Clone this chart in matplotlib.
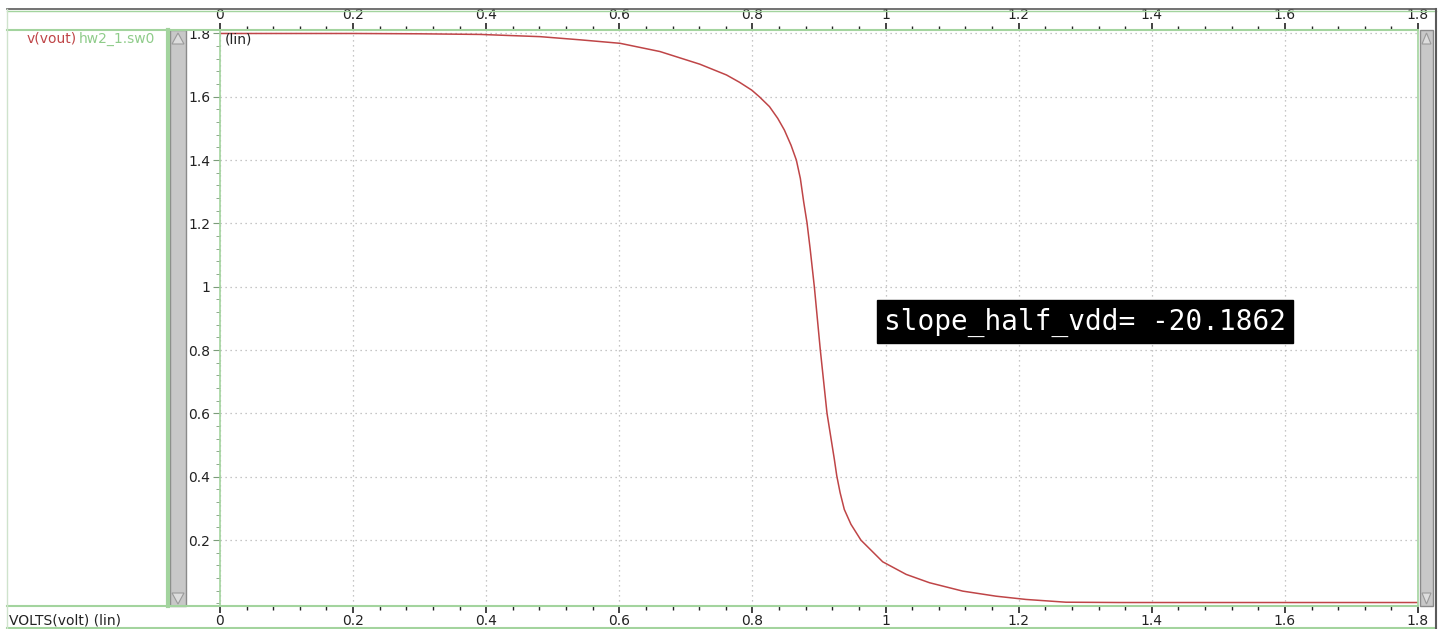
import matplotlib
matplotlib.use("Agg")
import matplotlib.pyplot as plt
from matplotlib.patches import Rectangle, Polygon
from matplotlib.lines import Line2D
from matplotlib.ticker import MultipleLocator, FuncFormatter

# DC sweep of the inverter: v(in) vs v(vout)
vin = [0.0, 0.1, 0.2, 0.3, 0.391, 0.481, 0.541, 0.601, 0.661, 0.721, 0.761,
       0.7805, 0.799, 0.8105, 0.8256, 0.838, 0.848, 0.858, 0.866, 0.872, 0.877,
       0.882, 0.8867, 0.893, 0.902, 0.912, 0.923, 0.9267, 0.9317, 0.938, 0.948,
       0.963, 0.9957, 1.031, 1.066, 1.116, 1.166, 1.211, 1.271, 1.35, 1.5, 1.65, 1.8]
vout = [1.8, 1.8, 1.8, 1.799, 1.797, 1.79, 1.78, 1.769, 1.743, 1.703, 1.669,
        1.646, 1.621, 1.600, 1.569, 1.532, 1.495, 1.447, 1.400, 1.342, 1.268,
        1.202, 1.120, 1.0, 0.80, 0.601, 0.456, 0.403, 0.350, 0.297, 0.250,
        0.200, 0.1316, 0.0918, 0.0655, 0.039, 0.023, 0.0127, 0.004, 0.003, 0.003, 0.003, 0.003]

x_ticks = [0, 0.2, 0.4, 0.6, 0.8, 1.0, 1.2, 1.4, 1.6, 1.8]
y_ticks = [0.2, 0.4, 0.6, 0.8, 1.0, 1.2, 1.4, 1.6, 1.8]
signal_name = "v(vout)"
sweep_name = "hw2_1.sw0"
x_title = "VOLTS(volt) (lin)"
measure_text = "slope_half_vdd= -20.1862"

W, H = 1443, 629
GREEN = "#a3d49e"
RED = "#bf4547"


def fx(p):
    return p / W


def fy(p):
    return 1 - p / H


fig = plt.figure(figsize=(W / 100, H / 100), dpi=100)
fig.patch.set_facecolor("white")

# main plot area
ax = fig.add_axes([fx(220), fy(606), fx(1418) - fx(220), fy(30) - fy(606)])
ax.plot(vin, vout, color=RED, lw=1.1)
ax.set_xlim(0, 1.8)
ax.set_ylim(-0.008, 1.811)

fmt = FuncFormatter(lambda v, p: "%g" % round(v, 3))
ax.set_xticks(x_ticks)
ax.set_yticks(y_ticks)
ax.xaxis.set_major_formatter(fmt)
ax.yaxis.set_major_formatter(fmt)
ax.xaxis.set_minor_locator(MultipleLocator(0.04))
ax.yaxis.set_minor_locator(MultipleLocator(0.04))

ax.tick_params(axis="x", which="both", top=True, bottom=True, labeltop=True,
               labelbottom=True, direction="out", colors="#222222", labelsize=10)
ax.tick_params(axis="x", which="major", length=5, width=1.2, pad=0.5)
ax.tick_params(axis="x", which="minor", length=3, width=1)
ax.tick_params(axis="y", which="both", direction="out", colors="#7c9c7a", labelsize=10,
               labelcolor="#222222")
ax.tick_params(axis="y", which="major", length=5, pad=2)
ax.tick_params(axis="y", which="minor", length=3)

ax.grid(True, which="major", color="#b4b4b4", lw=0.9, linestyle=(0, (1, 3)))
for s in ax.spines.values():
    s.set_color(GREEN)
    s.set_linewidth(1.2)

ax.text(0.004, 0.995, "(lin)", transform=ax.transAxes, ha="left", va="top",
        fontsize=10, color="#222222")

ax.text(1.299, 0.889, measure_text, ha="center", va="center", fontsize=20,
        family="DejaVu Sans Mono", color="white",
        bbox=dict(boxstyle="square,pad=0.25", facecolor="black", edgecolor="black"))


# frame of the viewer window
def hline(y, x0, x1, color, lw):
    fig.add_artist(Line2D([fx(x0), fx(x1)], [fy(y), fy(y)], color=color, lw=lw,
                          transform=fig.transFigure))


def vline(x, y0, y1, color, lw):
    fig.add_artist(Line2D([fx(x), fx(x)], [fy(y0), fy(y1)], color=color, lw=lw,
                          transform=fig.transFigure))


hline(9, 7, 1436, "#5a5a5a", 1.2)
hline(10.5, 7, 1436, GREEN, 1.0)
hline(30, 7, 1418, GREEN, 1.5)
hline(606, 7, 1418, GREEN, 1.5)
hline(628, 7, 1436, GREEN, 1.5)
vline(7, 9, 628, "#cfe3cc", 1.0)
vline(1436, 9, 628, "#5a5a5a", 1.5)
vline(167.5, 30, 606, GREEN, 3)


# scroll bars
def scrollbar(x0, x1):
    fig.add_artist(Rectangle((fx(x0), fy(606)), fx(x1) - fx(x0), fy(30) - fy(606),
                             transform=fig.transFigure, facecolor="#c8c8c8",
                             edgecolor="#8a8a8a", lw=1))
    xm = (x0 + x1) / 2
    fig.add_artist(Polygon([(fx(x0 + 2), fy(44)), (fx(x1 - 2), fy(44)), (fx(xm), fy(33))],
                           closed=True, transform=fig.transFigure,
                           facecolor="#dddddd", edgecolor="#9a9a9a", lw=0.8))
    fig.add_artist(Polygon([(fx(x0 + 2), fy(593)), (fx(x1 - 2), fy(593)), (fx(xm), fy(604))],
                           closed=True, transform=fig.transFigure,
                           facecolor="#dddddd", edgecolor="#9a9a9a", lw=0.8))


scrollbar(170, 186)
scrollbar(1420, 1433)

# signal name and x-axis title
fig.text(fx(77), fy(39), signal_name, color=RED, fontsize=10, ha="right", va="center")
fig.text(fx(155), fy(39), sweep_name, color="#8fcc8a", fontsize=10, ha="right", va="center")
fig.text(fx(9), fy(620), x_title, color="#222222", fontsize=10, ha="left", va="center")

fig.savefig("out.png", dpi=100, facecolor="white")
